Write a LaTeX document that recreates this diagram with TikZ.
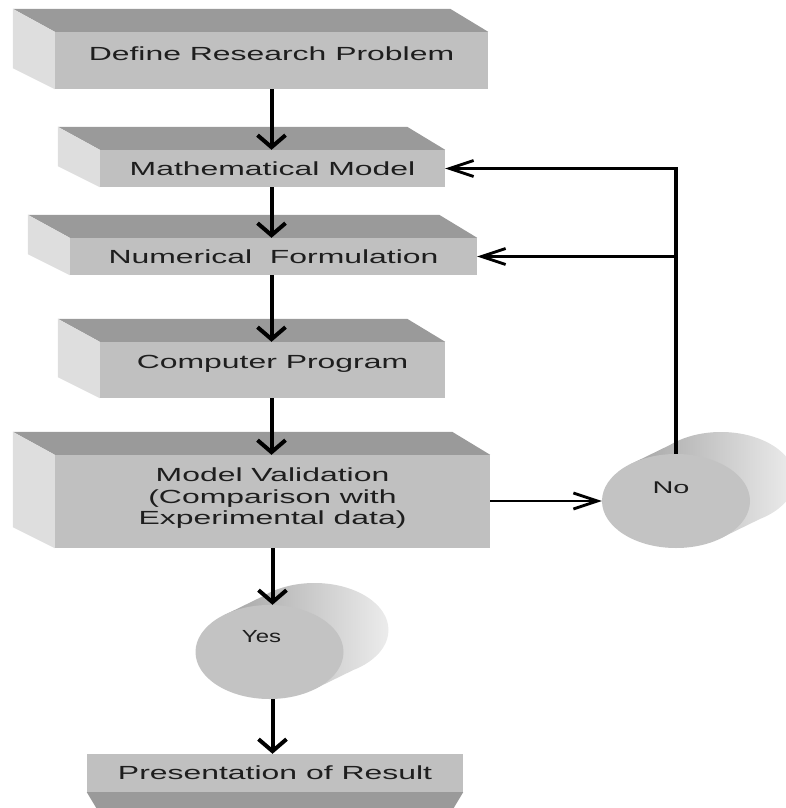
\documentclass[tikz,border=0pt]{standalone}
\usepackage{fontspec}
\setmainfont{Liberation Sans}
\newfontfamily\boxfont[FakeStretch=1.68]{Liberation Sans}
\newfontfamily\yesfont[FakeStretch=1.37]{Liberation Sans}
\newfontfamily\nofont[FakeStretch=1.7]{Liberation Sans}
\usetikzlibrary{arrows.meta,calc,shapes.geometric}
\definecolor{frontgray}{RGB}{192,192,192}
\definecolor{topgray}{RGB}{154,154,154}
\definecolor{leftgray}{RGB}{222,222,222}
\definecolor{txtgray}{RGB}{30,30,30}
\definecolor{cylfrontgray}{RGB}{195,195,195}
\definecolor{cyldark}{RGB}{165,165,165}
\definecolor{cyllight}{RGB}{236,236,236}
\newcommand\boxfaces[1]{%
  \fill[topgray] (#1.north west) -- (#1.north east) -- ++(-38,-23)
    -- ($(#1.north west)+(-42,-23)$) -- cycle;
  \fill[leftgray] (#1.north west) -- ($(#1.north west)+(-42,-23)$)
    -- ($(#1.south west)+(-42,-21)$) -- (#1.south west) -- cycle;}
\newcommand\cylbody[1]{%
  \path[left color=cyldark, right color=cyllight, nonzero rule]
    ($(#1)+(-45,-37)$) -- ($(#1)+(45,37)$) -- ($(#1)+(90,15)$) -- ($(#1)+(0,-59)$) -- cycle
    ($(#1)+(45,-22)$) ellipse [x radius=74pt, y radius=47pt];}
\begin{document}
\begin{tikzpicture}[x=1pt,y=-1pt,
  box/.style={rectangle, fill=frontgray, inner sep=0pt, text=txtgray,
    font=\boxfont\fontsize{19}{21.5}\selectfont, align=center},
  boxtext/.style={text=txtgray, font=\boxfont\fontsize{19}{21.5}\selectfont, align=center, inner sep=0pt},
  cyl/.style={ellipse, fill=cylfrontgray, inner sep=0pt, minimum width=148pt, minimum height=94pt},
  vline/.style={draw=black, line width=4pt, -{Straight Barb[length=12pt,width=28pt]}},
  hline/.style={draw=black, line width=2.8pt, -{Straight Barb[length=24pt,width=16pt]}},
  vplain/.style={draw=black, line width=4pt},
  hplain/.style={draw=black, line width=2.8pt}]
\useasboundingbox (0,0) rectangle (786,808);
\clip (0,0) rectangle (786,808);

% boxes
\node[box, minimum width=433pt, minimum height=57pt,
  label={[boxtext, yshift=7pt]center:Define Research Problem}] (def) at (271.5,60.5) {};
\boxfaces{def}
\node[box, minimum width=345pt, minimum height=37pt] (math) at (272.5,168.5) {Mathematical Model};
\boxfaces{math}
\node[box, minimum width=407pt, minimum height=37pt] (num) at (273.5,256.5) {Numerical~ Formulation};
\boxfaces{num}
\node[box, minimum width=345pt, minimum height=56pt,
  label={[boxtext, yshift=6pt]center:Computer Program}] (comp) at (272.5,370) {};
\boxfaces{comp}
\node[box, minimum width=435pt, minimum height=93pt,
  label={[boxtext, yshift=3pt]center:{Model Validation\\(Comparison with\\Experimental data)}}] (val) at (272.5,501.5) {};
\boxfaces{val}
\node[box, minimum width=376pt, minimum height=38pt] (pres) at (275,773) {Presentation of Result};
\fill[topgray] (pres.south west) -- (pres.south east) -- ++(-12,20)
  -- ($(pres.south west)+(12,20)$) -- cycle;

% cylinders
\coordinate (yc) at (269.5,652);
\cylbody{yc}
\node[cyl, label={[text=txtgray, font=\yesfont\fontsize{17.5}{20}\selectfont, xshift=-8pt, yshift=15pt]center:Yes}] (yes) at (yc) {};
\coordinate (nc) at (676,501);
\cylbody{nc}
\node[cyl, label={[text=txtgray, font=\nofont\fontsize{17}{20}\selectfont, xshift=-5pt, yshift=13pt]center:No}] (no) at (nc) {};

% connectors
\draw[vline] (def.south) -- (def.south |- math.north);
\draw[vline] (def.south |- math.south) -- (def.south |- num.north);
\draw[vline] (def.south |- num.south) -- (def.south |- comp.north);
\draw[vline] (def.south |- comp.south) -- (def.south |- val.north);
\draw[vline] (val.south) -- (val.south |- yes.north);
\draw[vline] (val.south |- yes.south) -- (val.south |- pres.north);
\draw[hline] (val.east |- no.west) -- (no.west);
\coordinate (fbtop) at (no.north |- math.east);
\coordinate (fbmid) at (no.north |- num.east);
\draw[vplain] (no.north) -- ($(fbtop)+(0,-1.4)$);
\draw[hline] ($(fbtop)+(2,0)$) -- (math.east);
\draw[hline] ($(fbmid)+(2,0)$) -- (num.east);
\end{tikzpicture}
\end{document}
